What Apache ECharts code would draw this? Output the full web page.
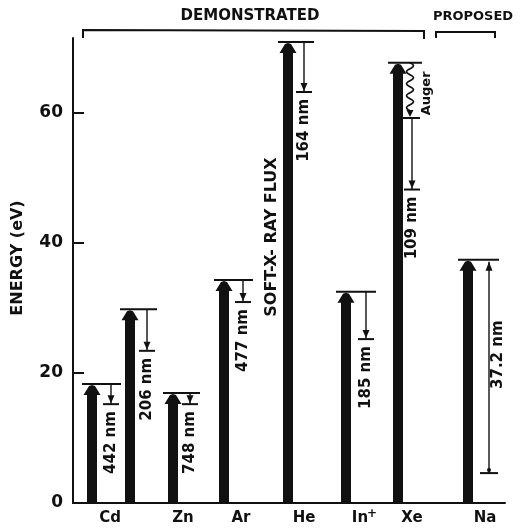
<!DOCTYPE html>
<html>
<head>
<meta charset="utf-8">
<script src="https://cdn.jsdelivr.net/npm/echarts@6/dist/echarts.min.js"></script>
<style>
  html, body { margin: 0; padding: 0; background: #fff; }
  #chart { width: 532px; height: 528px; }
</style>
</head>
<body>
<div id="chart"></div>
<script>
// One entry per laser scheme (pumped upper level -> lower level)
const species = ['Cd', 'Cd', 'Zn', 'Ar', 'He', 'In+', 'Xe', 'Na'];
// Horizontal placement (axis units) of the pumping arrow and of the laser transition
const barColumn = [1.9, 5.7, 10.0, 15.1, 21.5, 27.3, 32.5, 39.5];
const transitionColumn = [3.8, 7.4, 11.7, 17.0, 23.1, 29.3, 33.9, 41.6];
// Upper and lower laser levels, eV
const upperLevel = [18.3, 29.8, 16.9, 34.3, 70.9, 32.5, 67.7, 37.4];
const lowerLevel = [15.2, 23.4, 15.2, 30.9, 63.2, 25.2, 48.2, 4.6];
// Level reached by Auger decay before the laser transition (Xe only)
const augerLevel = [null, null, null, null, null, null, 59.2, null];
const wavelength = ['442 nm', '206 nm', '748 nm', '477 nm', '164 nm', '185 nm', '109 nm', '37.2 nm'];
const proposedScheme = [false, false, false, false, false, false, false, true];

// Element names under the baseline
const elementNames = ['Cd', 'Zn', 'Ar', 'He', 'In+', 'Xe', 'Na'];
const elementColumn = [3.7, 11.0, 16.8, 23.1, 29.0, 33.9, 41.2];

// Energy axis
const energyTicks = [0, 20, 40, 60];
const energyMax = 71.5;

const INK = '#111';
const FONT = '"DejaVu Sans", "Liberation Sans", sans-serif';

function textEl(x, y, text, size, opts) {
  opts = opts || {};
  return {
    type: 'text',
    x: x, y: y,
    rotation: opts.rotation || 0,
    style: {
      text: text,
      fill: INK,
      fontSize: size,
      fontWeight: 'bold',
      fontFamily: FONT,
      align: opts.align || 'center',
      verticalAlign: opts.verticalAlign || 'middle'
    }
  };
}

function line(x1, y1, x2, y2, w) {
  return { type: 'line', shape: { x1: x1, y1: y1, x2: x2, y2: y2 }, style: { stroke: INK, lineWidth: w } };
}

function poly(points) {
  return { type: 'polygon', shape: { points: points }, style: { fill: INK } };
}

function renderScheme(params, api) {
  const i = params.dataIndex;
  const bx = api.value(0), up = api.value(1), tx = api.value(2), low = api.value(3);
  const base = api.coord([bx, 0]);
  const top = api.coord([bx, up]);
  const t = api.coord([tx, up]);
  const lo = api.coord([tx, low]);
  const x = base[0], yTop = top[1];
  const X = t[0], yLo = lo[1];
  const kids = [];

  // Pumping arrow: thick shaft with a broad head touching the upper level
  kids.push({ type: 'rect', shape: { x: x - 5, y: yTop + 9, width: 10, height: base[1] - yTop - 9 }, style: { fill: INK } });
  kids.push(poly([[x - 8.5, yTop + 11], [x - 3, yTop + 2], [x, yTop + 1], [x + 3, yTop + 2], [x + 8.5, yTop + 11]]));

  // Upper level
  kids.push(line(x - 10, yTop, X + 10, yTop, 2));

  if (proposedScheme[i]) {
    // Proposed transition, drawn as an upward arrow from the lower level
    kids.push(line(X, yLo, X, yTop + 2, 1.4));
    kids.push(poly([[X - 3.5, yTop + 11], [X, yTop + 2], [X + 3.5, yTop + 11]]));
    kids.push({ type: 'circle', shape: { cx: X, cy: yLo - 3, r: 2 }, style: { fill: INK } });
    kids.push(line(X - 9, yLo, X + 9, yLo, 2));
    const mid = api.coord([tx, (up + low) / 2 + 1.8]);
    kids.push(textEl(X + 9, mid[1], wavelength[i], 15, { rotation: Math.PI / 2 }));
    return { type: 'group', children: kids };
  }

  let yStart = yTop;
  if (augerLevel[i] != null) {
    // Auger decay drawn as a wavy line, then the laser transition below it
    const ya = api.coord([tx, augerLevel[i]])[1];
    const pts = [];
    for (let y = yTop; y <= ya - 7; y += 1) {
      pts.push([X - 2 + 3.5 * Math.sin(2 * Math.PI * (y - yTop) / 12), y]);
    }
    kids.push({ type: 'polyline', shape: { points: pts }, style: { stroke: INK, lineWidth: 1.6, fill: null } });
    kids.push(poly([[X - 5.5, ya - 8], [X - 2, ya - 1], [X + 1.5, ya - 8]]));
    kids.push(line(X - 10, ya, X + 8, ya, 2));
    kids.push(textEl(X + 15, (yTop + ya) / 2 + 3, 'Auger', 13, { rotation: Math.PI / 2 }));
    yStart = ya;
  }

  // Laser transition: thin arrow ending on a short bar at the lower level
  kids.push(line(X, yStart, X, yLo, 1.4));
  kids.push(poly([[X - 3.5, yLo - 9], [X, yLo - 1], [X + 3.5, yLo - 9]]));
  kids.push(line(X - 8, yLo, X + 8, yLo, 2));
  kids.push(textEl(X, yLo + 7, wavelength[i], 15, { rotation: Math.PI / 2, align: 'right' }));

  return { type: 'group', children: kids };
}

function renderName(params, api) {
  const p = api.coord([api.value(0), 0]);
  const name = elementNames[params.dataIndex];
  const y = p[1] + 15;
  if (name === 'In+') {
    return {
      type: 'group',
      children: [
        textEl(p[0] - 3, y, 'In', 15),
        textEl(p[0] + 9, y - 4, '+', 12)
      ]
    };
  }
  return textEl(p[0], y, name, 15);
}

const chart = echarts.init(document.getElementById('chart'), null, { renderer: 'canvas' });

chart.setOption({
  animation: false,
  backgroundColor: '#fff',
  grid: { left: 73, right: 27, top: 38, bottom: 25 },
  xAxis: {
    type: 'value', min: 0, max: 43.2,
    axisLine: { show: true, onZero: false, lineStyle: { color: INK, width: 2 } },
    axisTick: { show: false },
    axisLabel: { show: false },
    splitLine: { show: false }
  },
  yAxis: {
    type: 'value', min: 0, max: energyMax, interval: 20,
    axisLine: { show: true, lineStyle: { color: INK, width: 2 } },
    axisTick: { show: true, inside: true, length: 11, customValues: energyTicks, lineStyle: { color: INK, width: 2 } },
    axisLabel: {
      customValues: energyTicks,
      color: INK, fontSize: 17, fontWeight: 'bold', fontFamily: FONT, margin: 10
    },
    splitLine: { show: false }
  },
  graphic: [
    { type: 'polyline', shape: { points: [[83, 38], [83, 30], [424, 31], [424, 39]] }, style: { stroke: INK, lineWidth: 2, fill: null } },
    { type: 'polyline', shape: { points: [[436, 38], [436, 32], [495, 32], [495, 38]] }, style: { stroke: INK, lineWidth: 2, fill: null } },
    { type: 'text', x: 250, y: 16, style: { text: 'DEMONSTRATED', fill: INK, fontSize: 15, fontWeight: 'bold', fontFamily: FONT, align: 'center', verticalAlign: 'middle' } },
    { type: 'text', x: 473, y: 17, style: { text: 'PROPOSED', fill: INK, fontSize: 13, fontWeight: 'bold', fontFamily: FONT, align: 'center', verticalAlign: 'middle' } },
    { type: 'text', x: 18, y: 258, rotation: Math.PI / 2, style: { text: 'ENERGY (eV)', fill: INK, fontSize: 16, fontWeight: 'bold', fontFamily: FONT, align: 'center', verticalAlign: 'middle' } },
    { type: 'text', x: 272, y: 237, rotation: Math.PI / 2, style: { text: 'SOFT-X- RAY FLUX', fill: INK, fontSize: 16, fontWeight: 'bold', fontFamily: FONT, align: 'center', verticalAlign: 'middle' } }
  ],
  series: [
    {
      type: 'custom',
      name: 'schemes',
      clip: false,
      renderItem: renderScheme,
      data: species.map((s, i) => [barColumn[i], upperLevel[i], transitionColumn[i], lowerLevel[i]])
    },
    {
      type: 'custom',
      name: 'elements',
      clip: false,
      renderItem: renderName,
      data: elementColumn.map(c => [c, 0])
    }
  ]
});
</script>
</body>
</html>
